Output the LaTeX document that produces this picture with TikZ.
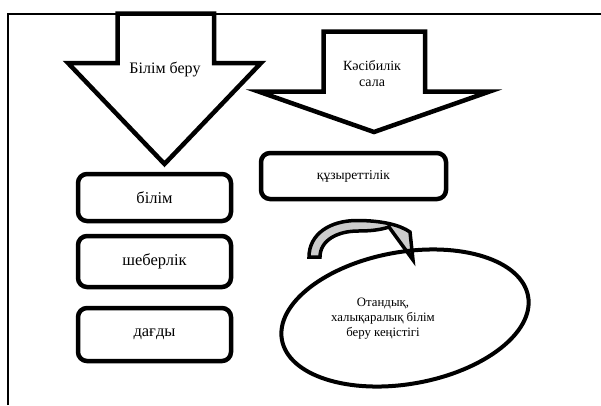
\documentclass[tikz,border=0pt]{standalone}
\usepackage{fontspec}
\setmainfont{Liberation Serif}
\usetikzlibrary{shapes.geometric}
\begin{document}
\begin{tikzpicture}[x=1pt,y=-1pt,
  bigarrow/.style={draw=black, line width=4.5pt, fill=white, line join=miter},
  box/.style={draw=black, line width=4.5pt, rounded corners=9pt, inner sep=0pt, font=\fontsize{16.5}{18}\selectfont},
  lbl/.style={font=\fontsize{16}{18}\selectfont, align=center, inner sep=0pt},
  curvearrow/.style={draw=black, line width=3.5pt, fill=gray!40, line join=miter},
]
\useasboundingbox (0,0) rectangle (601,405);
\fill[white] (0,0) rectangle (601,405);
% frame
\draw[line width=2pt] (8,405) -- (8,13.5) -- (601,13.5);
% big arrows
\draw[bigarrow] (117.5,13.5) -- (117.5,63) -- (68,63) -- (164.5,164) -- (261,63) -- (214,63) -- (214,13.5) -- cycle;
\draw[bigarrow] (323.5,31.7) -- (323.5,91.7) -- (259,91.7) -- (374,132) -- (489,91.7) -- (425,91.7) -- (425,31.7) -- cycle;
\node[lbl] (t1) at (165,69) {Білім беру};
\node[lbl, font=\fontsize{14}{16}\selectfont] (t2) at (372,74) {Кәсібилік\\сала};
% boxes
\node[box, minimum width=153, minimum height=47] (bilim) at (154.5,197.5) {білім};
\node[box, minimum width=153, minimum height=51] (sheber) at (154.5,261.5) {шеберлік};
\node[box, minimum width=153, minimum height=53] (dagdy) at (154.5,334.5) {дағды};
\node[box, minimum width=185, minimum height=46, font=\fontsize{13.5}{16}\selectfont] (kuz) at (353.5,176) {құзыреттілік};
% curved arrow
\draw[curvearrow] (309,257) .. controls (309,234) and (330,220.5) .. (357,220.5)
  .. controls (382,220.5) and (400,225) .. (410,232) -- (413,260) -- (389,227)
  .. controls (380,230) and (370,231) .. (358,231)
  .. controls (338,231) and (320,240) .. (320,257) -- cycle;
% ellipse
\node[draw=black, ellipse, line width=4pt, minimum width=250, minimum height=132, rotate=10, inner sep=0pt] (ell) at (405,318) {};
\node[lbl, font=\fontsize{12.8}{15}\selectfont] (etext) at (383,319) {Отандық,\\халықаралық білім\\беру кеңістігі};
\end{tikzpicture}
\end{document}
